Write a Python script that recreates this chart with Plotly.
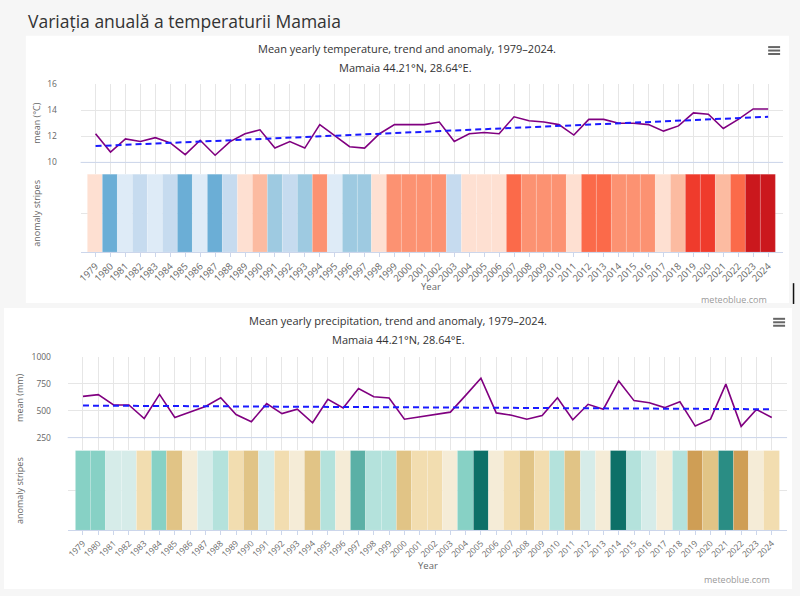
import plotly.graph_objects as go

W, H = 800, 596

years = list(range(1979, 2025))

temp_mean = [12.2, 10.8, 11.8, 11.6, 11.9, 11.5, 10.6, 11.7, 10.55, 11.6,
             12.2, 12.5, 11.1, 11.6, 11.1, 12.9, 12.05, 11.2, 11.1, 12.2,
             12.9, 12.9, 12.9, 13.1, 11.6, 12.2, 12.3, 12.2, 13.5, 13.2,
             13.1, 12.9, 12.1, 13.3, 13.3, 13.0, 13.0, 12.9, 12.4, 12.8,
             13.8, 13.7, 12.6, 13.3, 14.1, 14.1]
temp_trend_years = [1979, 2024]
temp_trend_vals = [11.25, 13.5]
temp_anom_level = [1, -4, -1, -2, -1, -2, -4, -1, -4, -2,
                   1, 2, -3, -2, -3, 3, -1, -3, -3, 1,
                   3, 3, 3, 3, -2, 1, 1, 1, 4, 3,
                   3, 3, 1, 4, 4, 3, 3, 3, 1, 2,
                   5, 5, 2, 4, 6, 6]

prec_mean = [632, 648, 553, 553, 427, 651, 437, 489, 538, 620,
             464, 397, 565, 473, 513, 388, 605, 525, 706, 629,
             617, 421, 443, 458, 486, 642, 801, 479, 458, 421,
             455, 620, 415, 559, 513, 776, 593, 574, 528, 583,
             357, 421, 746, 354, 510, 437]
prec_trend_years = [1979, 2024]
prec_trend_vals = [547, 513]
prec_anom_level = [3, 3, 1, 1, -2, 3, -3, -1, 1, 2,
                   -2, -3, 1, -2, -1, -3, 2, -1, 4, 2,
                   2, -3, -2, -2, -1, 3, 6, -1, -2, -3,
                   -2, 2, -3, 1, -1, 6, 2, 1, -1, 2,
                   -4, -3, 5, -4, -1, -2]

page_title = "Variația anuală a temperaturii Mamaia"
temp_title = "Mean yearly temperature, trend and anomaly, 1979–2024."
prec_title = "Mean yearly precipitation, trend and anomaly, 1979–2024."
subtitle = "Mamaia 44.21°N, 28.64°E."

# ---- styling helpers ----
def fx(px):
    return px / W

def fy(py):
    return 1 - py / H

def discrete_scale(colors):
    n = len(colors)
    cs = []
    for i, c in enumerate(colors):
        cs.append([i / n, c])
        cs.append([(i + 1) / n, c])
    return cs

# levels -4..6
temp_colors = ["#6baed6", "#9ecae1", "#c6dbef", "#deebf7", "#ffffff",
               "#fee0d2", "#fcbba1", "#fc9272", "#fb6a4a", "#ef3b2c", "#cb181d"]
prec_colors = ["#cf9e55", "#e1c486", "#f2ddb0", "#f5ecd7", "#ffffff",
               "#d6ece9", "#b4e2dc", "#87d1c5", "#5bb0a6", "#2a8d84", "#0d7068"]

GRID = "#e6e6e6"
AXL = "#ccd6eb"
TXT = "#333333"
LBL = "#666666"
FONT = "Open Sans"

fig = go.Figure()

fig.add_trace(go.Scatter(x=years, y=temp_mean, mode="lines",
                         line=dict(color="#800080", width=1.6),
                         xaxis="x", yaxis="y"))
fig.add_trace(go.Scatter(x=temp_trend_years, y=temp_trend_vals, mode="lines",
                         line=dict(color="#1a1aff", width=2, dash="6px,4px"),
                         xaxis="x", yaxis="y"))
fig.add_trace(go.Bar(x=years, y=[1] * len(years), width=1,
                     marker=dict(color=temp_anom_level, colorscale=discrete_scale(temp_colors),
                                 cmin=-4.5, cmax=6.5, showscale=False,
                                 line=dict(color="rgba(255,255,255,0.3)", width=0.5)),
                     xaxis="x2", yaxis="y2"))
fig.add_trace(go.Scatter(x=years, y=prec_mean, mode="lines",
                         line=dict(color="#800080", width=1.6),
                         xaxis="x3", yaxis="y3"))
fig.add_trace(go.Scatter(x=prec_trend_years, y=prec_trend_vals, mode="lines",
                         line=dict(color="#1a1aff", width=2, dash="6px,4px"),
                         xaxis="x3", yaxis="y3"))
fig.add_trace(go.Bar(x=years, y=[1] * len(years), width=1,
                     marker=dict(color=prec_anom_level, colorscale=discrete_scale(prec_colors),
                                 cmin=-4.5, cmax=6.5, showscale=False,
                                 line=dict(color="rgba(255,255,255,0.3)", width=0.5)),
                     xaxis="x4", yaxis="y4"))

tick_years = years

def line_x(dom, anchor):
    return dict(domain=dom, range=[1978, 2025], anchor=anchor, showgrid=True,
                gridcolor=GRID, gridwidth=1, dtick=1, tick0=1978,
                showticklabels=False, zeroline=False, showline=False, ticks="")

def stripe_x(dom, anchor, fs):
    return dict(domain=dom, range=[1978, 2025], anchor=anchor, showgrid=False,
                tickmode="array", tickvals=tick_years, ticktext=[str(y) for y in tick_years],
                tickangle=-45, tickfont=dict(family=FONT, size=fs, color=LBL),
                ticks="outside", ticklen=4, tickcolor=AXL,
                showline=True, linecolor=AXL, linewidth=1, zeroline=False)

t_top, t_bot = 79, 170
t_unit = (158 - 79) / 6.0
temp_lo = 10 - (t_bot - 158) / t_unit
p_top, p_bot = 354.3, 449
p_unit = (436 - 354.3) / 750.0
prec_lo = 250 - (p_bot - 436) / p_unit

fig.update_layout(
    width=W, height=H, margin=dict(l=0, r=0, t=0, b=0),
    paper_bgcolor="#f6f6f6", plot_bgcolor="rgba(0,0,0,0)",
    showlegend=False, bargap=0,
    font=dict(family=FONT, color=TXT),
    xaxis=line_x([fx(77), fx(783)], "y"),
    yaxis=dict(domain=[fy(t_bot), fy(t_top)], range=[temp_lo, 16.0], anchor="x",
               tick0=10, dtick=2, showgrid=True, gridcolor=GRID, zeroline=False,
               ticks="outside", ticklen=21, tickcolor="rgba(0,0,0,0)",
               tickfont=dict(family=FONT, size=8.5, color=LBL)),
    xaxis2=stripe_x([fx(77), fx(783)], "y2", 9.5),
    yaxis2=dict(domain=[fy(248.5), fy(170)], range=[0, 1], anchor="x2",
                showticklabels=False, tickvals=[0.5], showgrid=True, gridcolor=GRID,
                zeroline=False, fixedrange=True),
    xaxis3=line_x([fx(64), fx(787)], "y3"),
    yaxis3=dict(domain=[fy(p_bot), fy(p_top)], range=[prec_lo, 1000], anchor="x3",
                tick0=0, dtick=250, showgrid=True, gridcolor=GRID, zeroline=False,
                ticks="outside", ticklen=14, tickcolor="rgba(0,0,0,0)",
                tickfont=dict(family=FONT, size=8.5, color=LBL)),
    xaxis4=stripe_x([fx(64), fx(787)], "y4", 8.5),
    yaxis4=dict(domain=[fy(529.5), fy(449)], range=[0, 1], anchor="x4",
                showticklabels=False, tickvals=[0.5], showgrid=True, gridcolor=GRID,
                zeroline=False),
)

shapes = []
shapes.append(dict(type="rect", xref="paper", yref="paper", x0=fx(22), x1=fx(789),
                   y0=fy(300), y1=fy(30), fillcolor="white", line=dict(width=0), layer="below"))
shapes.append(dict(type="rect", xref="paper", yref="paper", x0=fx(0), x1=fx(792),
                   y0=fy(589), y1=fy(305), fillcolor="white", line=dict(width=0), layer="below"))
shapes.append(dict(type="line", xref="x domain", yref="y", x0=0, x1=1, y0=10, y1=10,
                   line=dict(color=AXL, width=1)))
shapes.append(dict(type="line", xref="x3 domain", yref="y3", x0=0, x1=1, y0=250, y1=250,
                   line=dict(color=AXL, width=1)))
for (cx, cy) in [(774, 45), (779, 319.5)]:
    for dy in (-3.5, 0, 3.5):
        shapes.append(dict(type="line", xref="paper", yref="paper",
                           x0=fx(cx - 6), x1=fx(cx + 6), y0=fy(cy + dy), y1=fy(cy + dy),
                           line=dict(color="#666666", width=2)))
shapes.append(dict(type="line", xref="paper", yref="paper", x0=fx(793.5), x1=fx(793.5),
                   y0=fy(301), y1=fy(280), line=dict(color="#111111", width=1.5)))
fig.update_layout(shapes=shapes)

ann = []
def A(text, x, y, size, color=TXT, xanchor="center", angle=0, family=FONT):
    ann.append(dict(text=text, x=fx(x), y=fy(y), xref="paper", yref="paper",
                    showarrow=False, xanchor=xanchor, yanchor="middle", textangle=angle,
                    font=dict(family=family, size=size, color=color)))

A(page_title, 22, 15, 17.5, color="#333333", xanchor="left")
A(temp_title, 405, 43, 11, color="#333333")
A(subtitle, 404, 62, 11, color="#333333")
A(prec_title, 396, 317.5, 11, color="#333333")
A(subtitle, 396.5, 336.5, 11, color="#333333")
A("mean (°C)", 33, 118, 9, color=LBL, angle=-90)
A("anomaly stripes", 33, 209, 9, color=LBL, angle=-90)
A("mean (mm)", 15, 395, 9, color=LBL, angle=-90)
A("anomaly stripes", 15, 489, 9, color=LBL, angle=-90)
A("Year", 429, 283, 9.5, color=LBL)
A("Year", 426, 565, 9.5, color=LBL)
A("meteoblue.com", 769, 296, 9, color="#999999", xanchor="right")
A("meteoblue.com", 772, 579, 9, color="#999999", xanchor="right")
fig.update_layout(annotations=ann)

fig.write_html("out.html", config={"displayModeBar": False})
